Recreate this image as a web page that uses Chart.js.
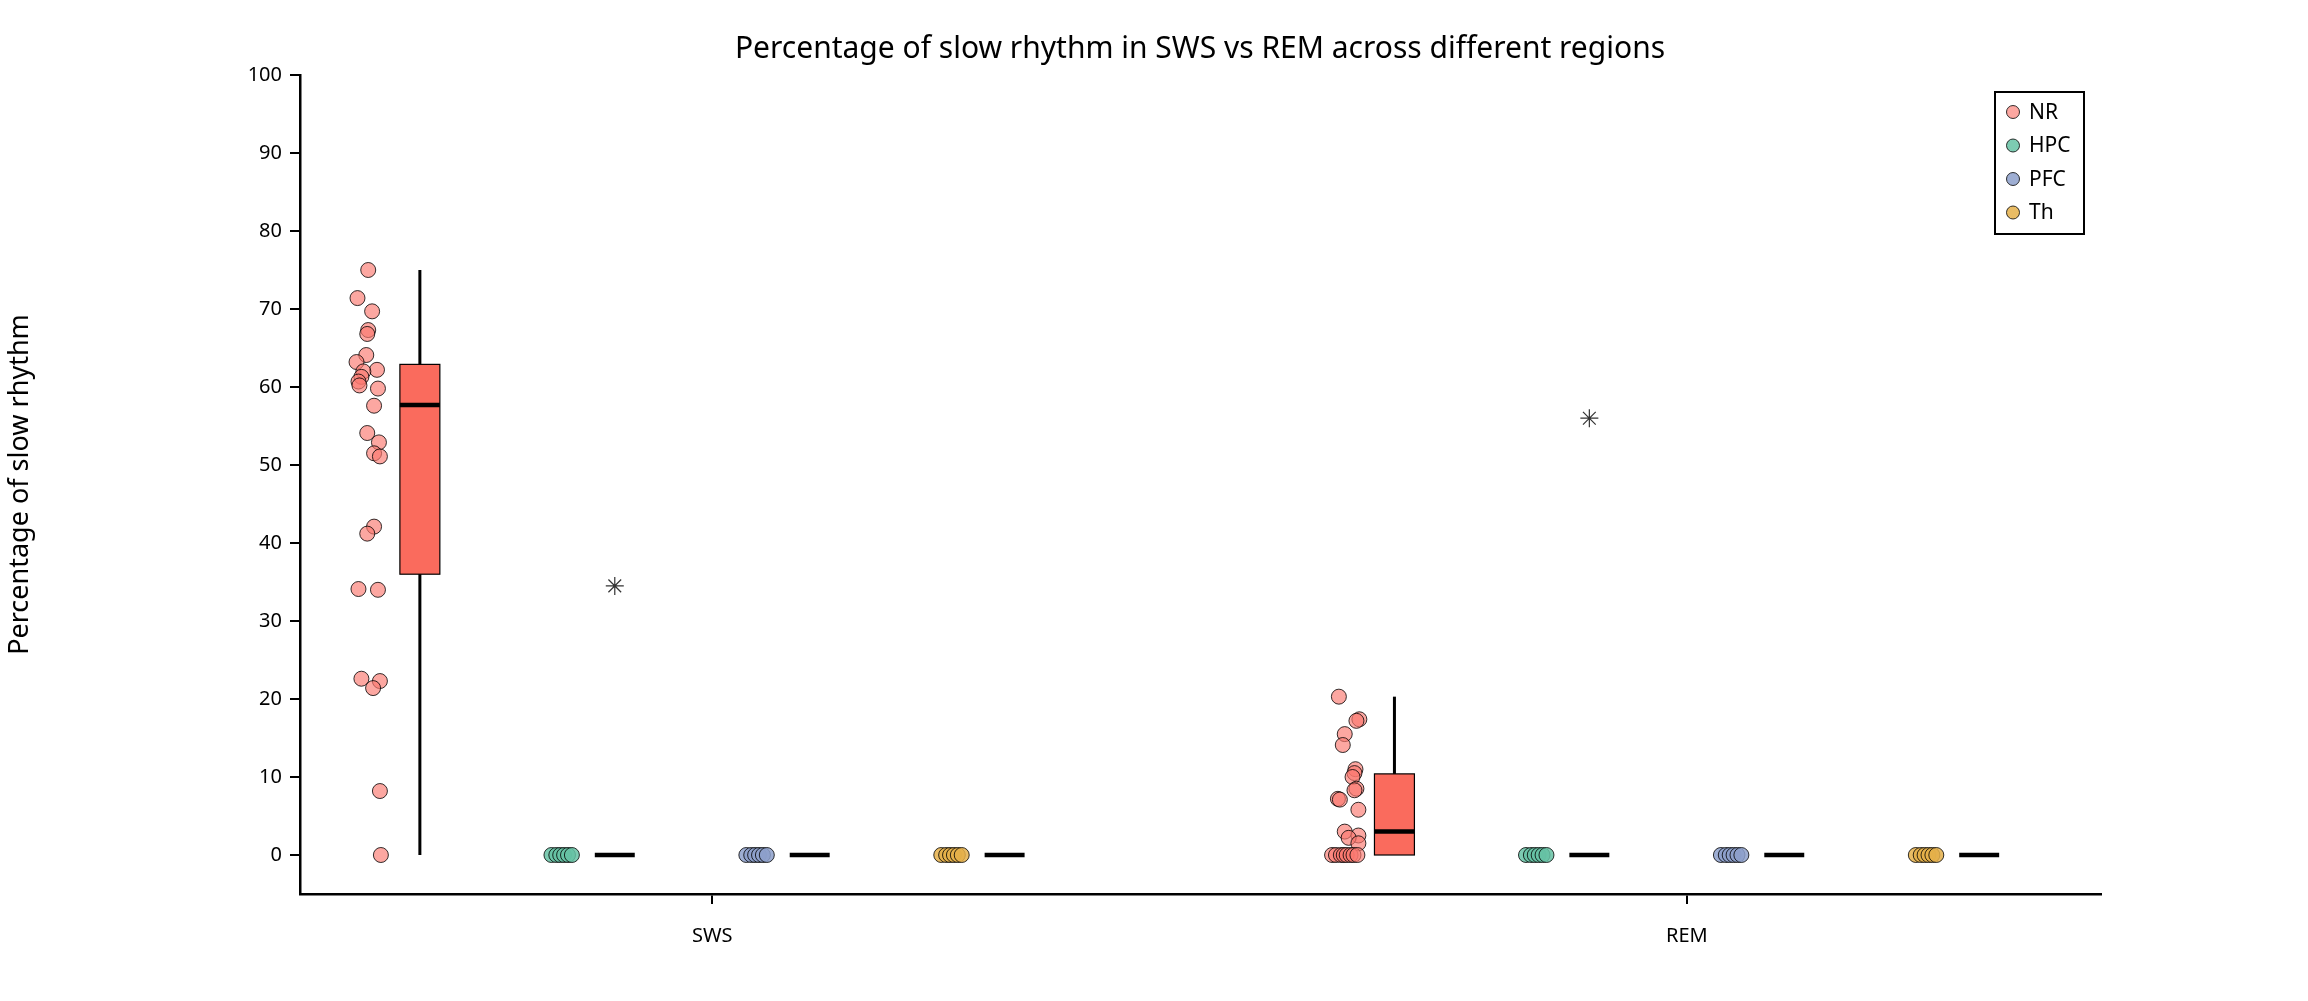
<!DOCTYPE html>
<html>
<head>
<meta charset="utf-8">
<script src="https://cdn.jsdelivr.net/npm/chart.js@4"></script>
<style>
  body { margin: 0; background: #fff; }
  canvas { display: block; }
</style>
</head>
<body>
<canvas id="c" width="2308" height="1001"></canvas>
<script>
  const states = ['SWS', 'REM'];
  const regions = ['NR', 'HPC', 'PFC', 'Th'];
  const colors = ['#fa6b5d', '#66c2a5', '#8da0cb', '#e5b04a'];
  const dotColors = ['rgba(250,120,110,0.65)', 'rgba(102,194,165,0.85)', 'rgba(141,160,203,0.85)', 'rgba(229,176,74,0.85)'];
  const yTicks = [0, 10, 20, 30, 40, 50, 60, 70, 80, 90, 100];

  // box offsets from state centre, dots sit a little left of each box
  const boxOffsets = [-0.3, -0.1, 0.1, 0.3];
  const dotShift = -0.053;

  // NR values, with their jitter
  const nrSws = [75, 71.4, 69.7, 67.3, 66.8, 64.1, 63.2, 62.2, 62, 61.3, 60.7, 60.2, 59.8, 57.6, 54.1, 52.9, 51.5, 51.1, 42.1, 41.2, 34.1, 34, 22.6, 22.3, 21.4, 8.2, 0];
  const nrSwsJit = [0.0, -0.011, 0.004, 0.0, -0.001, -0.002, -0.012, 0.009, -0.005, -0.007, -0.010, -0.009, 0.010, 0.006, -0.001, 0.011, 0.006, 0.012, 0.006, -0.001, -0.010, 0.010, -0.007, 0.012, 0.005, 0.012, 0.013];
  const nrRem = [20.3, 17.4, 17.2, 15.5, 14.1, 11, 10.5, 10, 8.5, 8.3, 7.2, 7.1, 5.8, 3, 2.5, 2.2, 1.5, 0, 0, 0, 0, 0, 0, 0, 0];
  const nrRemJit = [-0.004, 0.017, 0.014, 0.002, 0.0, 0.013, 0.012, 0.010, 0.014, 0.012, -0.005, -0.003, 0.016, 0.002, 0.016, 0.006, 0.016, -0.011, -0.007, -0.002, 0.001, 0.004, 0.008, 0.011, 0.015];
  const zeroJit = [-0.012, -0.007, -0.003, 0.001, 0.005, 0.009];

  // box stats: [whiskerLow, q1, median, q3, whiskerHigh]
  const boxSws = [[0, 36, 57.7, 62.9, 75], [0, 0, 0, 0, 0], [0, 0, 0, 0, 0], [0, 0, 0, 0, 0]];
  const boxRem = [[0, 0, 3, 10.4, 20.3], [0, 0, 0, 0, 0], [0, 0, 0, 0, 0], [0, 0, 0, 0, 0]];
  const outliers = [{ state: 0, region: 1, y: 34.5 }, { state: 1, region: 1, y: 56 }];

  function pts(stateIdx, regionIdx, vals, jit) {
    return vals.map((v, i) => ({ x: stateIdx + 1 + boxOffsets[regionIdx] + dotShift + jit[i], y: v }));
  }
  const zeros = zeroJit.map(() => 0);

  const datasets = regions.map((r, ri) => {
    let data;
    if (ri === 0) data = pts(0, 0, nrSws, nrSwsJit).concat(pts(1, 0, nrRem, nrRemJit));
    else data = pts(0, ri, zeros, zeroJit).concat(pts(1, ri, zeros, zeroJit));
    return {
      label: r, data: data, backgroundColor: dotColors[ri], borderColor: '#000',
      borderWidth: 0.8, pointRadius: 7.5, pointHoverRadius: 7.5
    };
  });
  datasets.push({
    label: 'outliers',
    data: outliers.map(o => ({ x: o.state + 1 + boxOffsets[o.region], y: o.y })),
    pointStyle: 'star', pointRadius: 9, borderColor: '#333', borderWidth: 1.2, backgroundColor: '#333'
  });

  const boxPlugin = {
    id: 'boxes',
    beforeDatasetsDraw(chart) {
      const ctx = chart.ctx, xs = chart.scales.x, ys = chart.scales.y;
      const half = 0.0205;
      [boxSws, boxRem].forEach((stats, si) => {
        stats.forEach((s, ri) => {
          const cx = si + 1 + boxOffsets[ri];
          const xl = xs.getPixelForValue(cx - half), xr = xs.getPixelForValue(cx + half);
          const xc = xs.getPixelForValue(cx);
          ctx.save();
          ctx.strokeStyle = '#000';
          ctx.lineWidth = 3;
          ctx.beginPath();
          ctx.moveTo(xc, ys.getPixelForValue(s[0]));
          ctx.lineTo(xc, ys.getPixelForValue(s[4]));
          ctx.stroke();
          if (s[3] > s[1]) {
            const yt = ys.getPixelForValue(s[3]), yb = ys.getPixelForValue(s[1]);
            ctx.fillStyle = colors[ri];
            ctx.fillRect(xl, yt, xr - xl, yb - yt);
            ctx.lineWidth = 1.2;
            ctx.strokeRect(xl, yt, xr - xl, yb - yt);
          }
          ctx.lineWidth = 4.5;
          ctx.beginPath();
          const ym = ys.getPixelForValue(s[2]);
          ctx.moveTo(xl, ym);
          ctx.lineTo(xr, ym);
          ctx.stroke();
          ctx.restore();
        });
      });
    },
    afterDraw(chart) {
      const ctx = chart.ctx;
      ctx.save();
      ctx.fillStyle = '#000';
      ctx.font = '30px "Noto Sans"';
      ctx.textAlign = 'center';
      ctx.textBaseline = 'middle';
      ctx.fillText('Percentage of slow rhythm in SWS vs REM across different regions', 1200, 49);
      // legend
      const lx = 1995, ly = 92, lw = 89, lh = 142;
      ctx.lineWidth = 2;
      ctx.strokeStyle = '#000';
      ctx.strokeRect(lx, ly, lw, lh);
      ctx.font = '21px "Noto Sans"';
      ctx.textAlign = 'left';
      regions.forEach((r, i) => {
        const y = ly + 20 + i * 33.5;
        ctx.beginPath();
        ctx.arc(lx + 18, y, 6.5, 0, Math.PI * 2);
        ctx.fillStyle = dotColors[i];
        ctx.fill();
        ctx.lineWidth = 0.8;
        ctx.stroke();
        ctx.fillStyle = '#000';
        ctx.fillText(r, lx + 34, y + 1);
      });
      ctx.restore();
    }
  };

  new Chart(document.getElementById('c'), {
    type: 'scatter',
    data: { datasets: datasets },
    plugins: [boxPlugin],
    options: {
      responsive: false,
      animation: false,
      devicePixelRatio: 1,
      layout: { padding: { top: 75, right: 207, left: 0, bottom: 0 } },
      plugins: { legend: { display: false }, tooltip: { enabled: false } },
      scales: {
        x: {
          type: 'linear', min: 0.577, max: 2.425,
          afterBuildTicks: s => { s.ticks = states.map((_, i) => ({ value: i + 1 })); },
          afterFit: s => { s.height = 107; },
          ticks: { callback: (v) => states[v - 1] || '', color: '#000', font: { family: 'Noto Sans', size: 20 }, padding: 20 },
          grid: { drawOnChartArea: false, drawTicks: true, tickLength: 10, color: '#000', lineWidth: 2 },
          border: { display: true, color: '#000', width: 2.5 }
        },
        y: {
          min: -5, max: 100,
          afterBuildTicks: s => { s.ticks = yTicks.map(v => ({ value: v })); },
          afterFit: s => { s.width = 300; },
          ticks: { color: '#000', font: { family: 'Noto Sans', size: 20 }, padding: 8 },
          grid: { drawOnChartArea: false, drawTicks: true, tickLength: 10, color: '#000', lineWidth: 2 },
          border: { display: true, color: '#000', width: 2.5 },
          title: { display: true, text: 'Percentage of slow rhythm', color: '#000', font: { family: 'Noto Sans', size: 27 }, padding: { bottom: 10 } }
        }
      }
    }
  });
</script>
</body>
</html>
